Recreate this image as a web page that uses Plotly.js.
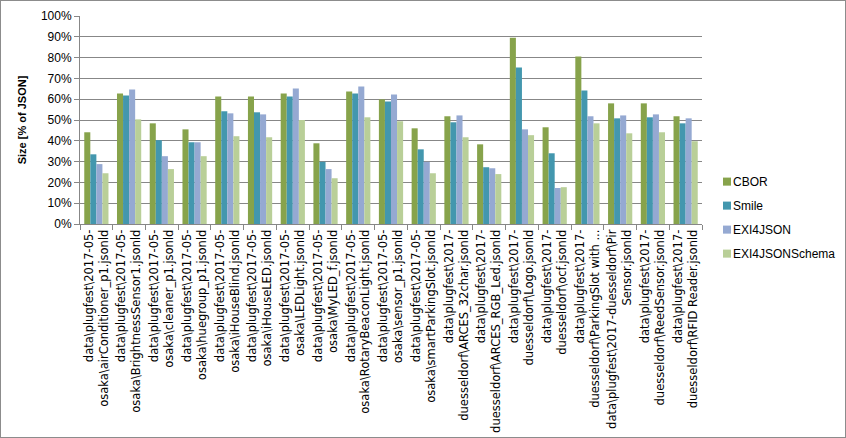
<!DOCTYPE html>
<html>
<head>
<meta charset="utf-8">
<script src="https://cdn.plot.ly/plotly-3.0.1.min.js"></script>
<style>
  html, body { margin: 0; padding: 0; background: #fff; }
  #frame { position: absolute; left: 0; top: 0; width: 844px; height: 436px; border: 1px solid #8c8c8c; }
  #chart { width: 844px; height: 436px; }
</style>
</head>
<body>
<div id="frame"><div id="chart"></div></div>
<script>
const categories = [
  "data\\plugfest\\2017-05-<br>osaka\\airConditioner_p1.jsonld",
  "data\\plugfest\\2017-05-<br>osaka\\BrightnessSensor1.jsonld",
  "data\\plugfest\\2017-05-<br>osaka\\cleaner_p1.jsonld",
  "data\\plugfest\\2017-05-<br>osaka\\huegroup_p1.jsonld",
  "data\\plugfest\\2017-05-<br>osaka\\iHouseBlind.jsonld",
  "data\\plugfest\\2017-05-<br>osaka\\iHouseLED.jsonld",
  "data\\plugfest\\2017-05-<br>osaka\\LEDLight.jsonld",
  "data\\plugfest\\2017-05-<br>osaka\\MyLED_f.jsonld",
  "data\\plugfest\\2017-05-<br>osaka\\RotaryBeaconLight.jsonld",
  "data\\plugfest\\2017-05-<br>osaka\\sensor_p1.jsonld",
  "data\\plugfest\\2017-05-<br>osaka\\smartParkingSlot.jsonld",
  "data\\plugfest\\2017-<br>duesseldorf\\ARCES_32char.jsonld",
  "data\\plugfest\\2017-<br>duesseldorf\\ARCES_RGB_Led.jsonld",
  "data\\plugfest\\2017-<br>duesseldorf\\Logo.jsonld",
  "data\\plugfest\\2017-<br>duesseldorf\\ocf.jsonld",
  "data\\plugfest\\2017-<br>duesseldorf\\ParkingSlot with ...",
  "data\\plugfest\\2017-duesseldorf\\Pir<br>Sensor.jsonld",
  "data\\plugfest\\2017-<br>duesseldorf\\ReedSensor.jsonld",
  "data\\plugfest\\2017-<br>duesseldorf\\RFID Reader.jsonld"
];

const cbor          = [44.1, 62.8, 48.4, 45.5, 61.3, 61.3, 62.8, 38.8, 63.7, 59.9, 46.0, 51.8, 38.3, 89.6, 46.5, 80.5, 58.0, 58.0, 51.8];
const smile         = [33.5, 61.8, 40.3, 39.3, 54.2, 53.7, 61.3, 29.9, 62.8, 58.9, 35.9, 48.9, 27.3, 75.2, 34.0, 64.2, 50.8, 51.3, 48.4];
const exi4json      = [28.8, 64.7, 32.6, 39.3, 53.2, 52.7, 65.2, 26.4, 66.1, 62.3, 29.9, 52.2, 26.8, 45.5, 17.3, 51.8, 52.2, 52.7, 50.8];
const exi4jsonSchema= [24.4, 50.3, 26.4, 32.6, 42.2, 41.7, 50.0, 22.0, 51.3, 49.4, 24.4, 41.7, 24.0, 42.7, 17.7, 48.4, 43.6, 44.1, 39.8];

const seriesNames  = ["CBOR", "Smile", "EXI4JSON", "EXI4JSONSchema"];
const seriesValues = [cbor, smile, exi4json, exi4jsonSchema];
const seriesColors = ["#87a34b", "#4397ae", "#95a9d2", "#b9cf98"];

const traces = seriesNames.map((name, i) => ({
  type: "bar",
  name: name,
  x: categories,
  y: seriesValues[i],
  marker: { color: seriesColors[i], line: { width: 0 } },
  legendgroup: name
}));

const gridColor = "#878787";
const layout = {
  width: 844, height: 436,
  margin: { l: 79, r: 143, t: 15, b: 213, autoexpand: false },
  paper_bgcolor: "#ffffff",
  plot_bgcolor: "#ffffff",
  font: { family: "Liberation Sans, Arial, sans-serif", size: 11, color: "#000" },
  barmode: "group",
  bargap: 0.26,
  bargroupgap: 0,
  showlegend: true,
  legend: {
    xref: "container", yref: "container",
    x: 0.8199, xanchor: "left", y: 0.619, yanchor: "top",
    font: { family: "Liberation Sans, Arial, sans-serif", size: 12, color: "#000" },
    traceorder: "grouped", tracegroupgap: 5,
    bgcolor: "rgba(0,0,0,0)"
  },
  xaxis: {
    type: "category",
    tickangle: -90,
    ticks: "outside", tickson: "boundaries", ticklen: 5, tickcolor: gridColor,
    showline: true, linecolor: gridColor, linewidth: 1,
    showgrid: false,
    tickfont: { family: "DejaVu Sans, sans-serif", size: 11.5 },
    automargin: false
  },
  yaxis: {
    range: [0, 100], dtick: 10, ticksuffix: "%",
    ticks: "outside", ticklen: 5, tickcolor: gridColor,
    showline: true, linecolor: gridColor, linewidth: 1,
    showgrid: true, gridcolor: gridColor, gridwidth: 1,
    zeroline: false,
    tickfont: { size: 12 },
    title: { text: "Size [% of JSON]", font: { size: 11, weight: "bold" }, standoff: 12 },
    automargin: false
  }
};

Plotly.newPlot("chart", traces, layout, { displayModeBar: false, staticPlot: true }).then(gd => {
  gd.querySelectorAll("g.legendpoints").forEach(el => {
    const b = el.getBBox();
    const cx = b.x + b.width / 2, cy = b.y + b.height / 2;
    const t = el.getAttribute("transform") || "";
    el.setAttribute("transform", t + ` translate(${cx + 14},${cy}) scale(0.67) translate(${-cx},${-cy})`);
  });
});
</script>
</body>
</html>
